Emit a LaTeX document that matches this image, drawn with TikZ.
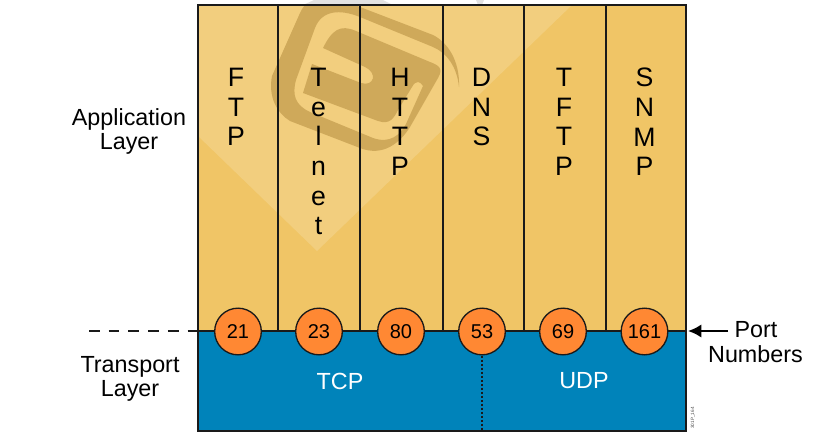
\documentclass[tikz,border=0pt]{standalone}
\usepackage{fontspec}
\setmainfont{Liberation Sans}
\usetikzlibrary{arrows.meta}
\definecolor{appcol}{HTML}{F0C566}
\definecolor{wmlight}{HTML}{F2CE7E}
\definecolor{wmdark}{HTML}{CFA95A}
\definecolor{wmgrey}{HTML}{E2E2E2}
\definecolor{blueband}{HTML}{0083BA}
\definecolor{portcol}{HTML}{FF8833}
\definecolor{edge}{HTML}{1A1A1A}
\tikzset{x=0.75pt,y=-0.75pt,
  divider/.style={draw=edge,line width=0.95pt},
  stack/.style={font=\fontsize{20}{22.2}\selectfont,align=center,anchor=north,text=black,inner sep=0pt},
  lay/.style={font=\fontsize{17.5}{18}\selectfont,align=center,inner sep=0pt},
  port/.style={circle,draw=edge,fill=portcol,line width=1pt,minimum size=35pt,inner sep=0pt,font=\fontsize{15}{15}\selectfont},
  proto/.style={font=\fontsize{17.5}{18}\selectfont,text=white,inner sep=0pt}}
\begin{document}
\begin{tikzpicture}
\useasboundingbox (0,0) rectangle (833,443);
\fill[wmgrey] (303,5) -- (314,0) -- (383,0) -- (393,5) -- cycle;
\fill[wmgrey] (476,0) -- (484,0) -- (482,5) -- (478,5) -- cycle;
\fill[appcol] (198,5) rectangle (686,331);
\begin{scope}
\clip (198,5) rectangle (686,331);
\fill[wmlight] (198,136) -- (317,251) -- (572,5) -- (198,5) -- cycle;
\fill[wmdark] (459,87) .. controls (460,60) and (447,42) .. (433,35) -- (360,7)
  .. controls (325,-6) and (308,-5) .. (300,13) -- (272,76)
  .. controls (268,97) and (277,113) .. (290,121) -- (360,148)
  .. controls (383,157) and (400,143) .. (410,127) -- (438,78)
  .. controls (444,68) and (438,65) .. (430,62) -- (356,31)
  .. controls (340,24) and (332,30) .. (323,48) -- (365,67)
  .. controls (378,73) and (374,87) .. (361,83) -- (312,64) -- (303,93) -- (378,121)
  .. controls (390,125) and (394,118) .. (398,110) -- (412,87)
  .. controls (416,80) and (420,81) .. (423,86) -- (406,124)
  .. controls (400,135) and (390,144) .. (373,138) -- (310,112)
  .. controls (295,105) and (292,95) .. (296,80) -- (315,28)
  .. controls (322,10) and (340,9) .. (360,17) -- (433,47)
  .. controls (447,53) and (457,67) .. (459,87) -- cycle;
\end{scope}
\fill[blueband] (198,331) rectangle (686,431);
\draw[edge,line width=1pt] (198,5) rectangle (686,431);
\foreach \x in {278,360,443,524,606}{\draw[divider] (\x,5) -- (\x,331);}
\draw[edge,line width=1pt] (198,331) -- (686,331);
\node[stack] (ftp) at (236,68) {F\\T\\P};
\node[stack] (tel) at (318.5,68) {T\\e\\l\\n\\e\\t};
\node[stack] (http) at (400,68) {H\\T\\T\\P};
\node[stack] (dns) at (481.5,68) {D\\N\\S};
\node[stack] (tftp) at (564,68) {T\\F\\T\\P};
\node[stack] (snmp) at (644.5,68) {S\\N\\M\\P};
\node[lay] (app) at (129,131) {Application\\Layer};
\node[lay] (trans) at (130,379) {Transport\\Layer};
\coordinate (dashL) at (89,331);
\coordinate (dashR) at (198,331);
\draw[edge,line width=0.9pt,dash pattern=on 8pt off 6.8pt] (dashL) -- (dashR);
\node[port] (p21) at (238,331.5) {21};
\node[port] (p23) at (319,331.5) {23};
\node[port] (p80) at (401,331.5) {80};
\node[port] (p53) at (482,331.5) {53};
\node[port] (p69) at (563,331.5) {69};
\node[port] (p161) at (644.5,331.5) {161};
\coordinate (split) at (482,431);
\draw[edge,line width=1pt,dash pattern=on 1.5pt off 1.5pt] (p53) -- (split);
\node[proto] (tcp) at (340,381) {TCP};
\node[proto] (udp) at (584,381) {UDP};
\node[lay] (port) at (756,330) {Port};
\node[lay] (numbers) at (755.5,354) {Numbers};
\coordinate (tail) at (728,331);
\coordinate (tip) at (688,331);
\draw[-{Latex[length=10pt,width=10pt]},black,line width=1.6pt] (tail) -- (tip);
\node[rotate=90,font=\fontsize{3.5}{4}\selectfont,text=black!70,inner sep=0pt] (code) at (693,418) {301P\_164};
\end{tikzpicture}
\end{document}
